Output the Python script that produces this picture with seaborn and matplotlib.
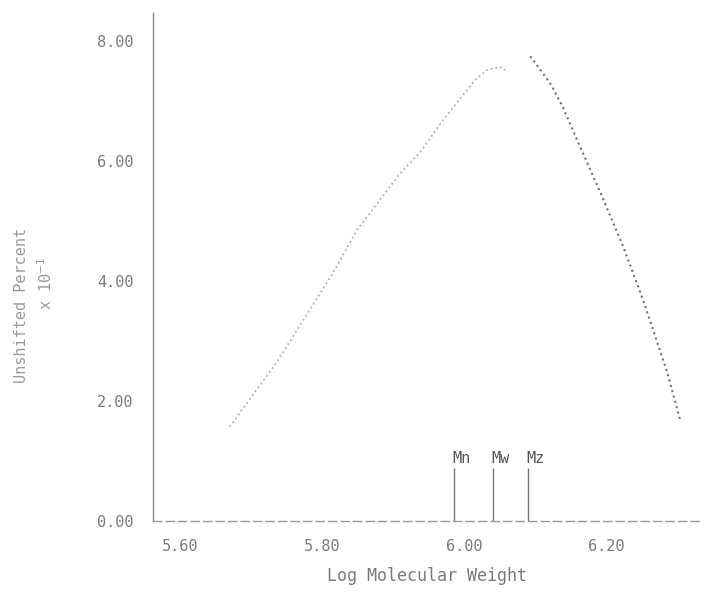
import numpy as np
import matplotlib
matplotlib.use("Agg")
import matplotlib.pyplot as plt
import seaborn as sns

# --- Data ---
# rising branch (log M, percent x 10^-1)
rise_logm = [5.670, 5.738, 5.815, 5.849, 5.910, 5.938, 5.970, 6.015, 6.032, 6.051, 6.058]
rise_pct = [1.57, 2.68, 4.13, 4.85, 5.80, 6.15, 6.68, 7.35, 7.52, 7.57, 7.52]
# falling branch
fall_logm = [6.093, 6.121, 6.139, 6.159, 6.192, 6.224, 6.252, 6.286, 6.304]
fall_pct = [7.75, 7.30, 6.90, 6.35, 5.47, 4.57, 3.68, 2.47, 1.68]

# molecular weight averages (log scale)
avg_names = ['Mn', 'Mw', 'Mz']
avg_logm = [5.986, 6.040, 6.090]

x_ticks = [5.60, 5.80, 6.00, 6.20]
y_ticks = [0, 2, 4, 6, 8]

TEXT = '#7a7a7a'

sns.set_style("white")
plt.rcParams['font.family'] = ['DejaVu Sans Mono', 'DejaVu Sans']

fig = plt.figure(figsize=(7.10, 6.06), dpi=100)
ax = fig.add_axes([0.2155, 0.1403, 0.986 - 0.2155, 0.9785 - 0.1403])

sns.lineplot(x=rise_logm, y=rise_pct, ax=ax, sort=False, color='#b0b0b0',
             linestyle=':', linewidth=1.3)
sns.lineplot(x=fall_logm, y=fall_pct, ax=ax, sort=False, color='#707070',
             linestyle=':', linewidth=1.5)

ax.vlines(avg_logm, 0, 0.88, color='#777777', linewidth=1.0)
for name, xv in zip(avg_names, avg_logm):
    ax.text(xv - 0.002, 0.92, name, color='#555555', fontsize=11,
            ha='left', va='bottom')

ax.set_xlim(5.562, 6.332)
ax.set_ylim(0, 8.47)
ax.set_xticks(x_ticks)
ax.set_xticklabels([f'{v:.2f}' for v in x_ticks])
ax.set_xticks(np.arange(5.65, 6.33, 0.05), minor=True)
ax.set_yticks(y_ticks)
ax.set_yticklabels([f'{v:.2f}' for v in y_ticks])

ax.tick_params(axis='x', which='major', length=9, width=1.0, color='#888888',
               labelsize=11, labelcolor=TEXT, pad=4)
ax.tick_params(axis='x', which='minor', length=3, width=0.8, color='#aaaaaa')
ax.tick_params(axis='y', length=0, labelsize=11, labelcolor=TEXT, pad=14)

for side in ['top', 'right']:
    ax.spines[side].set_visible(False)
ax.spines['left'].set_color('#888888')
ax.spines['left'].set_linewidth(1.0)
ax.spines['bottom'].set_color('#999999')
ax.spines['bottom'].set_linewidth(1.0)
ax.spines['bottom'].set_linestyle((0, (6, 3)))

ax.set_xlabel('Log Molecular Weight', fontsize=12, color=TEXT, labelpad=9)
ax.set_ylabel('')

fig.text(22 / 710, 1 - 305 / 606, 'Unshifted Percent', rotation=90,
         fontsize=11, color='#9a9a9a', ha='center', va='center')
fig.text(46 / 710, 1 - 283 / 606, r'x 10$^{-1}$', rotation=90,
         fontsize=11, color='#9a9a9a', ha='center', va='center')

fig.savefig('out.png', dpi=100, facecolor='white')
